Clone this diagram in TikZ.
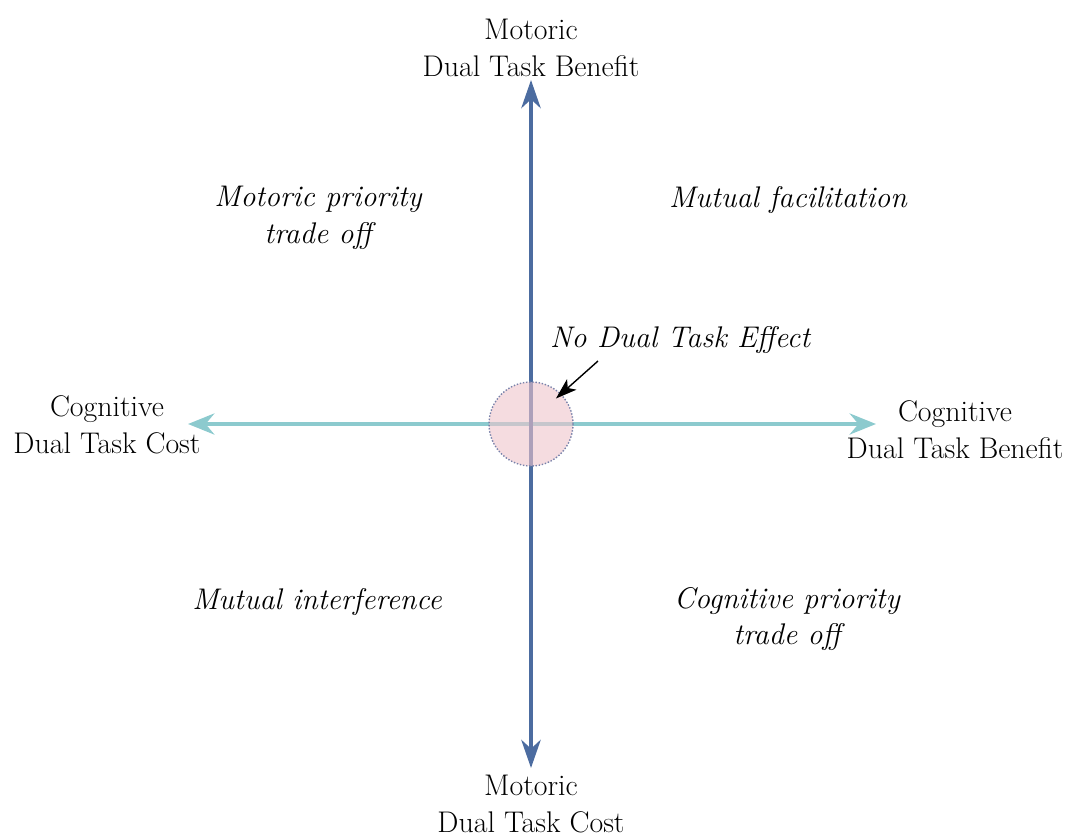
\documentclass[tikz,border=0pt]{standalone}
\usepackage{xcolor, tikz}
\usetikzlibrary{arrows.meta,positioning}
\definecolor{motblue}{RGB}{76,108,160}
\definecolor{cogteal}{RGB}{140,202,206}
\definecolor{zonepink}{RGB}{238,196,204}
\definecolor{dotgray}{RGB}{120,130,170}

\begin{document}
\begin{tikzpicture}[x=0.02cm, y=-0.02cm, every node/.style={font=\fontsize{17}{21}\selectfont, align=center}]
\useasboundingbox (0,0) rectangle (1069,836);
\coordinate (top) at (531,80);
\coordinate (bottom) at (531,768);
\coordinate (left) at (188,424);
\coordinate (right) at (876,424);
\draw[cogteal, line width=2.3pt, {Stealth[length=15pt,width=12pt,inset=5pt]}-{Stealth[length=15pt,width=12pt,inset=5pt]}] (left) -- (right);
\draw[motblue, line width=2.3pt, {Stealth[length=16pt,width=11pt,inset=5pt]}-{Stealth[length=16pt,width=11pt,inset=5pt]}] (bottom) -- (top);
\node[circle, minimum size=84*0.02cm, fill=zonepink, fill opacity=0.6, draw=dotgray, densely dotted, thick] (zero) at (531,424) {};
\node (motben) at (531,48) {Motoric\\Dual Task Benefit};
\node (motcost) at (531,804) {Motoric\\Dual Task Cost};
\node (cogcost) at (107,425) {Cognitive\\Dual Task Cost};
\node (cogben) at (955,430) {Cognitive\\Dual Task Benefit};
\node (motprio) at (318,218) {\itshape Motoric priority\\\itshape trade off};
\node (facil) at (788,200) {\itshape Mutual facilitation};
\node (interf) at (317,602) {\itshape Mutual interference};
\node (cogprio) at (787,619) {\itshape Cognitive priority\\\itshape trade off};
\node (nodte) at (680,340) {\itshape No Dual Task Effect};
\coordinate (tail) at (598,361);
\draw[-{Stealth[length=12pt,width=8pt,inset=3pt]}, thick, shorten >=-4pt] (tail) -- (zero.45);
\end{tikzpicture}
\end{document}
